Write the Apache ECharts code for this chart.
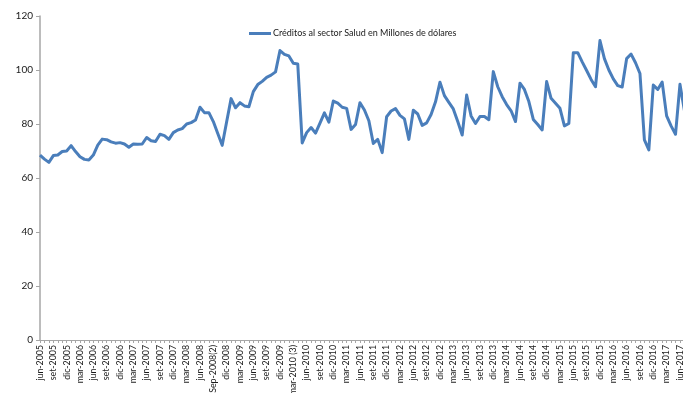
<!DOCTYPE html>
<html>
<head>
<meta charset="utf-8">
<script src="https://cdn.jsdelivr.net/npm/echarts@6/dist/echarts.min.js"></script>
<style>
  html, body { margin: 0; padding: 0; background: #fff; }
  #chart { width: 683px; height: 393px; }
</style>
</head>
<body>
<div id="chart"></div>
<script>
// Monthly categories, jun-2005 .. jul-2017
const categories = [
  'jun-2005','jul-2005','ago-2005','set-2005','oct-2005','nov-2005','dic-2005',
  'ene-2006','feb-2006','mar-2006','abr-2006','may-2006','jun-2006','jul-2006','ago-2006','set-2006','oct-2006','nov-2006','dic-2006',
  'ene-2007','feb-2007','mar-2007','abr-2007','may-2007','jun-2007','jul-2007','ago-2007','set-2007','oct-2007','nov-2007','dic-2007',
  'ene-2008','feb-2008','mar-2008','abr-2008','may-2008','jun-2008','jul-2008','ago-2008','Sep-2008(2)','oct-2008','nov-2008','dic-2008',
  'ene-2009','feb-2009','mar-2009','abr-2009','may-2009','jun-2009','jul-2009','ago-2009','set-2009','oct-2009','nov-2009','dic-2009',
  'ene-2010','feb-2010','mar-2010 (3)','abr-2010','may-2010','jun-2010','jul-2010','ago-2010','set-2010','oct-2010','nov-2010','dic-2010',
  'ene-2011','feb-2011','mar-2011','abr-2011','may-2011','jun-2011','jul-2011','ago-2011','set-2011','oct-2011','nov-2011','dic-2011',
  'ene-2012','feb-2012','mar-2012','abr-2012','may-2012','jun-2012','jul-2012','ago-2012','set-2012','oct-2012','nov-2012','dic-2012',
  'ene-2013','feb-2013','mar-2013','abr-2013','may-2013','jun-2013','jul-2013','ago-2013','set-2013','oct-2013','nov-2013','dic-2013',
  'ene-2014','feb-2014','mar-2014','abr-2014','may-2014','jun-2014','jul-2014','ago-2014','set-2014','oct-2014','nov-2014','dic-2014',
  'ene-2015','feb-2015','mar-2015','abr-2015','may-2015','jun-2015','jul-2015','ago-2015','set-2015','oct-2015','nov-2015','dic-2015',
  'ene-2016','feb-2016','mar-2016','abr-2016','may-2016','jun-2016','jul-2016','ago-2016','set-2016','oct-2016','nov-2016','dic-2016',
  'ene-2017','feb-2017','mar-2017','abr-2017','may-2017','jun-2017','jul-2017'
];

// Créditos al sector Salud, millones de dólares
const creditosSalud = [
  68.5, 67.0, 65.8, 68.3, 68.5, 69.8, 70.0,
  72.0, 69.8, 67.9, 66.9, 66.7, 68.5, 72.2, 74.4, 74.2, 73.4, 72.9, 73.1,
  72.6, 71.4, 72.6, 72.5, 72.6, 75.0, 73.8, 73.5, 76.2, 75.7, 74.3, 76.8,
  77.8, 78.3, 80.0, 80.5, 81.5, 86.2, 84.2, 84.2, 80.9, 76.5, 72.1, 80.8,
  89.4, 86.0, 87.9, 86.7, 86.4, 92.0, 94.6, 95.8, 97.3, 98.1, 99.3, 107.2,
  105.8, 105.2, 102.5, 102.2, 73.0, 76.8, 78.7, 76.6, 80.3, 84.1, 80.7, 88.5,
  87.7, 86.2, 85.8, 78.0, 79.8, 87.9, 85.2, 81.2, 72.8, 74.3, 69.4, 82.7,
  84.8, 85.7, 83.2, 81.9, 74.3, 85.1, 83.7, 79.5, 80.4, 83.5, 88.2, 95.5,
  90.5, 88.0, 85.6, 80.9, 75.9, 90.7, 83.0, 80.2, 82.8, 82.8, 81.6, 99.4,
  93.8, 90.1, 87.2, 84.9, 80.9, 95.1, 92.8, 88.3, 81.7, 79.8, 77.8, 95.7,
  89.5, 87.7, 85.8, 79.3, 80.2, 106.4, 106.4, 103.0, 99.8, 96.5, 93.8, 110.9,
  104.2, 100.0, 96.7, 94.2, 93.7, 104.2, 105.9, 102.7, 98.7, 74.1, 70.4, 94.4,
  92.8, 95.5, 83.0, 79.3, 76.2, 94.7, 85.0
];

const seriesName = 'Créditos al sector Salud en Millones de dólares';
const yTicks = { min: 0, max: 120, step: 20 };

const chart = echarts.init(document.getElementById('chart'), null, { renderer: 'canvas' });
const axisGray = '#a6a6a6';
const textColor = '#1a1a1a';
const fontFam = 'Lato, "Liberation Sans", sans-serif';

chart.setOption({
  animation: false,
  backgroundColor: '#ffffff',
  grid: { left: 40, right: -1.4, top: 16, bottom: 53, outerBoundsMode: 'none' },
  legend: {
    data: [seriesName],
    left: 244,
    top: 24,
    icon: 'rect',
    itemWidth: 22,
    itemHeight: 3,
    itemGap: 2,
    textStyle: { fontSize: 9, color: textColor, fontFamily: fontFam, padding: [0, 0, 0, -3] }
  },
  xAxis: {
    type: 'category',
    data: categories,
    boundaryGap: false,
    axisLine: { show: true, lineStyle: { color: axisGray, width: 1 } },
    axisTick: { show: true, interval: 0, length: 3, lineStyle: { color: axisGray } },
    axisLabel: {
      interval: 2,
      rotate: 90,
      margin: 5,
      fontSize: 8.8,
      color: textColor,
      fontFamily: fontFam
    },
    splitLine: { show: false }
  },
  yAxis: {
    type: 'value',
    min: yTicks.min,
    max: yTicks.max,
    interval: yTicks.step,
    axisLine: { show: true, lineStyle: { color: axisGray, width: 1.5 } },
    axisTick: { show: true, length: 4, lineStyle: { color: axisGray } },
    axisLabel: { fontSize: 10, color: textColor, fontFamily: fontFam, margin: 7 },
    splitLine: { show: false }
  },
  series: [{
    name: seriesName,
    type: 'line',
    data: creditosSalud,
    showSymbol: false,
    symbol: 'none',
    lineStyle: { color: '#4a7ebb', width: 3, join: 'round' },
    itemStyle: { color: '#4a7ebb' }
  }]
});
</script>
</body>
</html>
